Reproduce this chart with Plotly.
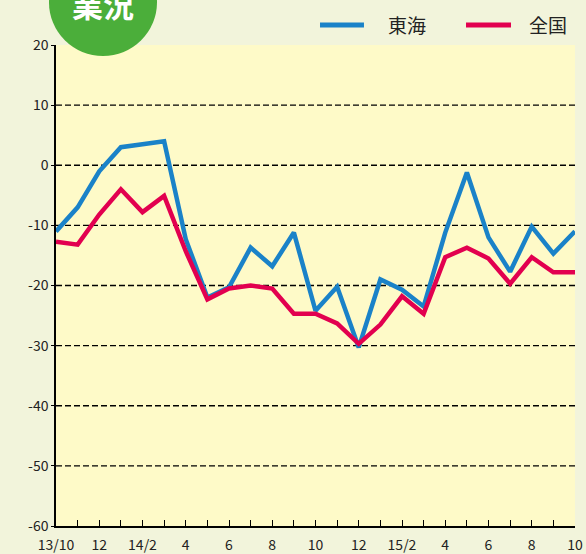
import plotly.graph_objects as go

months = ["13/10", "11", "12", "14/1", "14/2", "3", "4", "5", "6", "7", "8", "9", "10",
          "11", "12", "15/1", "15/2", "3", "4", "5", "6", "7", "8", "9", "10"]
tick_labels = ["13/10", "", "12", "", "14/2", "", "4", "", "6", "", "8", "", "10",
               "", "12", "", "15/2", "", "4", "", "6", "", "8", "", "10"]
tokai = [-11, -7, -1, 3, 3.5, 4, -12.3, -22, -20.3, -13.7, -16.8, -11.2, -24.2,
         -20.2, -30.3, -19, -20.7, -23.5, -11.2, -1.2, -12, -17.7, -10.2, -14.7, -11]
zenkoku = [-12.7, -13.2, -8.2, -4, -7.8, -5.1, -14.3, -22.3, -20.5, -20, -20.5, -24.7, -24.7,
           -26.3, -29.7, -26.5, -21.8, -24.7, -15.3, -13.7, -15.5, -19.7, -15.3, -17.8, -17.8]
grid_levels = [10, 0, -10, -20, -30, -40, -50]
y_ticks = [20, 10, 0, -10, -20, -30, -40, -50, -60]
y_tick_text = ["20", "10", "0", "-10", "-20", "-30", "-40", "-50", "-60"]

series = [("東海", tokai, "#1a82c8"), ("全国", zenkoku, "#e2004f")]

x = list(range(len(months)))
FONT = "Noto Sans CJK JP"
TXT = "#222222"

fig = go.Figure()
for name, vals, color in series:
    fig.add_trace(go.Scatter(x=x, y=vals, name=name, mode="lines",
                             line=dict(color=color, width=4.5), cliponaxis=False,
                             showlegend=False))

for g in grid_levels:
    fig.add_hline(y=g, line=dict(color="black", width=1.4, dash="6px,3px"), layer="below")

# custom legend (paper coords)
legend_pos = [(0.5087, 0.5934, 0.6358), (0.790, 0.8767, 0.9075)]
for (name, vals, color), (lx0, lx1, tx) in zip(series, legend_pos):
    fig.add_shape(type="line", xref="paper", yref="paper", x0=lx0, x1=lx1, y0=1.0416, y1=1.0416,
                  line=dict(color=color, width=5))
    fig.add_annotation(xref="paper", yref="paper", x=tx, y=1.0416, text=name, showarrow=False,
                       xanchor="left", yanchor="middle",
                       font=dict(family=FONT, size=19, color=TXT))

# badge
fig.add_shape(type="circle", xref="paper", yref="paper",
              x0=-0.0135, x1=0.1946, y0=0.977, y1=1.201,
              fillcolor="#4bae3a", line=dict(width=0), layer="above")
fig.add_annotation(xref="paper", yref="paper", x=0.0906, y=1.087, text="<b>業況</b>",
                   showarrow=False, font=dict(family=FONT, size=31, color="white"),
                   xanchor="center", yanchor="middle")

fig.update_layout(
    width=586, height=554,
    margin=dict(l=56, r=11, t=45, b=28, autoexpand=False),
    paper_bgcolor="#f2f4db",
    plot_bgcolor="#fefac8",
    font=dict(family=FONT, size=14, color=TXT),
    showlegend=False,
    xaxis=dict(range=[0, 24], tickmode="array", tickvals=x, ticktext=tick_labels,
               showgrid=False, zeroline=False, showline=True, linecolor="black", linewidth=1.5,
               ticks="inside", ticklen=6, tickcolor="black", tickwidth=1.2,
               tickfont=dict(size=14, color=TXT), ticklabelstandoff=5),
    yaxis=dict(range=[-60, 20], tickmode="array", tickvals=y_ticks, ticktext=y_tick_text,
               showgrid=False, zeroline=False, showline=True, linecolor="black", linewidth=1.5,
               ticks="outside", ticklen=3, tickcolor="black",
               tickfont=dict(size=14, color=TXT)),
)

fig.write_html("out.html", config={"displayModeBar": False},
               post_script="document.body.style.margin='0';document.body.style.background='#f2f4db';document.body.style.overflow='hidden';")
